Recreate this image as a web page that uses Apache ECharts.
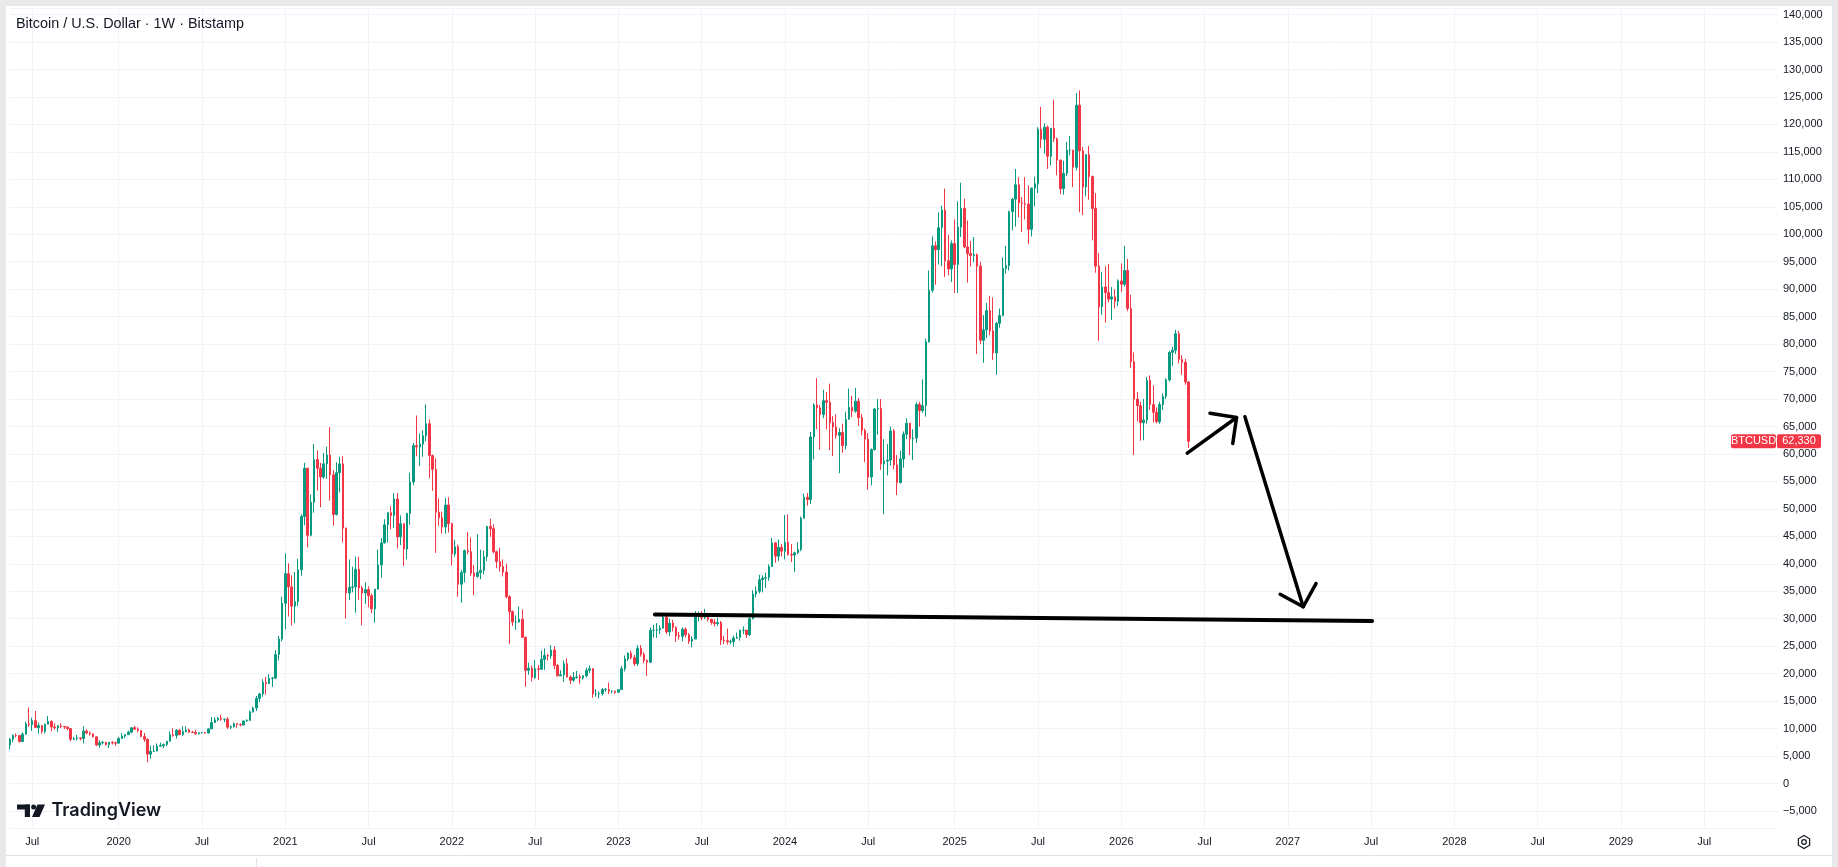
<!DOCTYPE html>
<html>
<head>
<meta charset="utf-8">
<title>Bitcoin / U.S. Dollar · 1W · Bitstamp</title>
<script src="https://cdn.jsdelivr.net/npm/echarts@6.0.0/dist/echarts.min.js"></script>
<style>
  html, body { margin: 0; padding: 0; background: #fff; }
  #chart { width: 1838px; height: 867px; }
</style>
</head>
<body>
<div id="chart"></div>
<script>
// weekly bars, first one is the week of 2019-05-13
// each row: [open, high, low, close] in thousands of USD
const candles2019 = [
  [7.0,8.3,6.2,8.05],[8.05,8.95,7.5,8.74],[8.74,9.09,8.4,8.72],[8.72,8.8,7.45,7.64],
  [7.64,9.32,7.55,8.98],[8.98,11.25,8.96,10.85],[10.85,13.88,10.3,10.75],[10.75,12.0,9.6,11.45],
  [11.45,13.2,10.6,10.2],[10.2,11.1,9.07,10.55],[10.55,10.65,9.1,9.5],[9.5,10.9,9.1,10.8],
  [10.8,12.3,10.8,11.3],[11.3,11.5,9.5,10.3],[10.3,10.95,9.8,10.15],[10.15,10.6,9.35,10.5],
  [10.5,10.95,10.1,10.4],[10.4,10.45,9.9,10.3],[10.3,10.3,9.7,10.0],[10.0,10.0,7.7,8.05],
  [8.05,8.5,7.9,8.2],[8.2,8.85,7.85,8.3],[8.3,8.4,7.85,8.2],[8.2,10.4,7.3,9.55],
  [9.55,9.9,9.0,9.2],[9.2,9.5,8.7,9.05],[9.05,9.1,8.4,8.5],[8.5,8.5,6.8,7.0],
  [7.0,7.9,6.5,7.4],[7.4,7.75,7.1,7.5],[7.5,7.6,6.9,7.1],[7.1,7.5,6.45,7.5],
  [7.5,7.7,7.1,7.4],[7.4,7.6,6.85,7.35]
];
const candles2020 = [
  [7.35,8.45,7.3,8.18],[8.18,9.2,8.1,8.65],[8.65,8.75,8.25,8.9],[8.9,9.6,8.9,9.35],
  [9.35,10.15,9.15,10.15],[10.15,10.5,9.75,9.9],[9.9,10.25,9.3,9.65],[9.65,9.7,8.45,8.55],
  [8.55,9.2,7.6,8.05],[8.05,8.2,3.85,5.35],[5.35,6.9,4.5,5.85],[5.85,6.95,5.75,5.9],
  [5.9,7.3,5.85,6.8],[6.8,7.45,6.75,6.9],[6.9,7.3,6.45,7.1],[7.1,7.75,6.8,7.7],
  [7.7,9.5,7.65,8.9],[8.9,10.05,8.5,8.75],[8.75,9.9,8.2,9.7],[9.7,9.95,8.8,8.9],
  [8.9,10.4,8.65,9.45],[9.45,10.4,9.3,9.75],[9.75,10.0,9.2,9.35],[9.35,9.6,9.2,9.3],
  [9.3,9.8,8.85,9.1],[9.1,9.3,8.9,9.25],[9.25,9.45,9.1,9.3],[9.3,9.35,9.05,9.2],
  [9.2,10.0,9.1,9.95],[9.95,12.1,9.9,11.1],[11.1,12.1,11.0,11.6],[11.6,12.1,11.3,11.9],
  [11.9,12.5,11.4,11.7],[11.7,11.8,11.15,11.7],[11.7,12.1,9.9,10.25],[10.25,10.6,9.9,10.35],
  [10.35,11.1,10.2,10.9],[10.9,10.95,10.15,10.75],[10.75,10.95,10.4,10.65],[10.65,11.45,10.55,11.4],
  [11.4,11.7,11.2,11.5],[11.5,13.3,11.4,13.05],[13.05,14.0,12.9,13.75],[13.75,15.95,13.2,15.5],
  [15.5,16.5,14.8,16.3],[16.3,19.0,15.8,18.4],[18.4,19.4,16.2,18.2],[18.2,19.9,18.1,19.15],
  [19.15,19.4,17.6,19.2],[19.2,24.3,19.0,23.5],[23.5,26.9,22.4,26.3],[26.3,34.0,25.9,32.8]
];
const candles2021 = [
  [32.8,41.9,28.1,38.2],[38.2,40.1,30.4,35.8],[35.8,37.9,28.8,32.3],[32.3,38.5,29.2,33.1],
  [33.1,40.9,32.3,38.9],[38.9,49.0,37.8,48.6],[48.6,58.4,47.0,57.4],[57.4,57.5,43.0,45.2],
  [45.2,52.6,45.0,51.2],[51.2,61.8,49.3,59.0],[59.0,60.6,53.3,57.4],[57.4,58.4,50.3,55.8],
  [55.8,60.2,55.5,58.2],[58.2,61.3,55.5,59.8],[59.8,64.9,51.5,56.2],[56.2,57.0,47.0,49.0],
  [49.0,58.5,48.8,56.6],[56.6,59.5,53.0,58.2],[58.2,59.6,43.9,46.5],[46.5,46.6,30.0,34.7],
  [34.7,40.8,33.4,35.7],[35.7,39.5,34.8,35.8],[35.8,41.3,31.1,39.0],[39.0,41.3,33.4,35.6],
  [35.6,36.0,28.8,34.7],[34.7,36.6,32.7,35.3],[35.3,35.9,32.1,34.2],[34.2,34.6,31.0,31.8],
  [31.8,35.4,29.3,35.4],[35.4,42.6,35.3,39.8],[39.8,44.7,37.5,43.8],[43.8,48.1,43.7,47.1],
  [47.1,49.4,43.9,49.3],[49.3,50.5,46.3,48.8],[48.8,52.9,46.5,51.8],[51.8,52.9,42.8,44.9],
  [44.9,48.8,43.4,47.3],[47.3,47.3,39.6,42.7],[42.7,49.2,40.8,49.2],[49.2,56.6,47.1,54.9],
  [54.9,62.0,54.3,61.5],[61.5,67.0,59.6,61.3],[61.3,63.7,57.8,61.8],[61.8,64.3,59.5,63.3],
  [63.3,69.0,62.3,65.5],[65.5,66.3,55.6,59.7],[59.7,59.9,53.3,57.2],[57.2,59.2,42.0,49.4],
  [49.4,51.9,46.9,48.4],[48.4,49.5,45.5,46.7],[46.7,52.0,45.5,50.7],[50.7,52.1,45.7,47.3]
];
const candles2022 = [
  [47.3,47.5,39.7,41.8],[41.8,44.4,41.3,43.1],[43.1,43.5,34.0,36.3],[36.3,38.9,32.9,38.4],
  [38.4,42.6,36.6,42.4],[42.4,45.8,41.7,42.2],[42.2,44.8,37.8,38.3],[38.3,39.8,34.3,37.7],
  [37.7,45.4,37.5,38.4],[38.4,42.6,37.2,38.8],[38.8,42.4,38.1,41.3],[41.3,46.9,40.5,46.8],
  [46.8,48.2,44.9,46.4],[46.4,47.2,41.9,42.2],[42.2,42.4,39.2,40.4],[40.4,42.9,38.6,39.5],
  [39.5,40.8,37.7,38.5],[38.5,40.0,33.7,34.0],[34.0,34.3,25.4,31.3],[31.3,31.5,28.7,29.4],
  [29.4,30.6,28.0,29.4],[29.4,32.2,29.3,29.9],[29.9,31.7,26.6,26.6],[26.6,26.8,17.6,20.6],
  [20.6,22.0,19.8,21.0],[21.0,21.5,18.6,19.3],[19.3,22.5,19.0,20.9],[20.9,21.6,18.9,20.8],
  [20.8,24.2,20.7,22.6],[22.6,24.6,20.7,23.3],[23.3,23.6,22.4,23.2],[23.2,25.2,22.7,24.3],
  [24.3,25.0,20.8,21.5],[21.5,21.8,19.5,19.6],[19.6,20.6,19.6,19.8],[19.8,22.4,18.5,21.8],
  [21.8,22.8,19.3,19.4],[19.4,19.7,18.1,18.8],[18.8,20.3,18.5,19.3],[19.3,20.5,19.1,19.4],
  [19.4,19.9,18.2,19.2],[19.2,19.7,18.9,19.6],[19.6,21.1,19.3,20.6],[20.6,21.5,20.1,20.9],
  [20.9,21.0,15.6,16.3],[16.3,17.2,15.8,16.3],[16.3,16.8,15.5,16.4],[16.4,17.4,16.0,17.1],
  [17.1,17.4,16.7,17.1],[17.1,18.4,16.3,16.8],[16.8,16.95,16.4,16.8],[16.8,16.9,16.3,16.6]
];
const candles2023 = [
  [16.6,17.2,16.5,17.1],[17.1,21.4,17.1,20.9],[20.9,23.3,20.4,22.7],[22.7,23.9,22.3,23.7],
  [23.7,24.2,22.6,22.9],[22.9,23.4,21.4,21.8],[21.8,25.2,21.4,24.6],[24.6,25.2,23.1,23.5],
  [23.5,23.9,21.9,22.4],[22.4,22.6,19.6,22.1],[22.1,28.4,21.9,27.9],[27.9,28.9,26.6,27.9],
  [27.9,29.2,26.5,28.0],[28.0,28.8,27.2,28.3],[28.3,31.0,28.2,30.3],[30.3,30.5,27.2,27.6],
  [27.6,30.0,26.9,29.2],[29.2,29.8,27.7,28.4],[28.4,28.6,25.8,26.9],[26.9,27.6,26.2,26.8],
  [26.8,28.4,25.9,28.1],[28.1,28.4,26.6,27.1],[27.1,27.4,25.4,25.9],[25.9,26.8,24.8,26.3],
  [26.3,31.4,26.3,30.5],[30.5,31.3,29.5,30.6],[30.6,31.4,29.7,30.2],[30.2,31.8,29.9,30.3],
  [30.3,30.4,29.5,29.9],[29.9,30.0,28.9,29.3],[29.3,29.9,28.6,29.1],[29.1,30.2,28.7,29.3],
  [29.3,29.6,25.2,26.1],[26.1,26.9,25.4,26.0],[26.0,28.2,25.3,25.8],[25.8,26.2,25.4,25.8],
  [25.8,26.9,24.9,26.5],[26.5,27.5,26.3,26.6],[26.6,28.0,26.0,27.9],[27.9,28.6,27.2,27.9],
  [27.9,28.0,26.5,27.1],[27.1,30.9,26.9,30.0],[30.0,35.2,29.9,34.5],[34.5,35.9,33.9,35.0],
  [35.0,38.0,34.6,37.1],[37.1,37.9,34.8,37.4],[37.4,38.4,35.6,37.5],[37.5,39.9,36.9,39.5],
  [39.5,44.7,39.5,43.8],[43.8,44.0,40.2,41.4],[41.4,44.4,40.5,43.0],[43.0,43.6,41.3,42.3]
];
const candles2024 = [
  [42.3,48.9,40.8,43.9],[43.9,49.0,41.5,41.7],[41.7,43.6,40.3,41.6],[41.6,42.2,38.5,42.0],
  [42.0,43.9,41.8,42.6],[42.6,48.6,42.3,48.3],[48.3,52.8,48.3,52.1],[52.1,52.9,50.6,51.7],
  [51.7,64.0,50.9,63.1],[63.1,69.2,59.0,68.9],[68.9,73.8,64.5,68.4],[68.4,68.9,60.8,67.2],
  [67.2,71.7,66.5,69.7],[69.7,71.3,64.5,69.4],[69.4,72.8,60.7,65.7],[65.7,66.9,59.6,64.9],
  [64.9,67.2,62.8,63.4],[63.4,64.7,56.5,63.9],[63.9,65.5,60.2,61.5],[61.5,67.7,60.8,66.3],
  [66.3,71.9,66.3,68.5],[68.5,70.6,66.7,67.8],[67.8,72.0,67.5,69.6],[69.6,70.2,65.1,66.6],
  [66.6,67.3,63.4,64.3],[64.3,64.6,58.5,62.7],[62.7,63.8,53.5,55.8],[55.8,61.0,54.3,60.8],
  [60.8,68.4,60.6,68.2],[68.2,70.0,63.5,68.3],[68.3,70.0,57.1,58.2],[58.2,62.7,49.0,58.7],
  [58.7,61.8,56.1,58.9],[58.9,65.0,57.9,64.2],[64.2,64.5,57.2,58.0],[58.0,59.8,52.5,54.8],
  [54.8,60.6,54.6,59.1],[59.1,64.1,57.5,63.6],[63.6,66.5,62.7,65.6],[65.6,65.6,59.8,62.8],
  [62.8,64.5,58.9,62.9],[62.9,69.4,62.0,69.0],[69.0,69.5,65.0,67.9],[67.9,73.6,67.5,68.8],
  [68.8,81.0,66.8,80.4],[80.4,93.4,80.3,89.8],[89.8,99.6,89.4,97.9],[97.9,98.7,90.8,97.2],
  [97.2,104.0,94.5,101.2],[101.2,105.2,94.2,104.4],[104.4,108.3,92.2,95.2],[95.2,99.9,92.5,93.7],
  [93.7,98.9,91.3,98.3]
];
const candles2025 = [
  [98.3,102.7,89.3,94.5],[94.5,106.0,89.3,101.3],[101.3,109.4,99.5,104.7],[104.7,106.5,97.5,97.7],
  [97.7,102.5,91.2,96.5],[96.5,98.8,94.1,96.1],[96.1,99.5,94.9,96.3],[96.3,96.5,78.2,94.2],
  [94.2,95.0,80.0,80.7],[80.7,85.3,76.6,82.6],[82.6,87.5,81.1,86.1],[86.1,88.8,81.6,82.4],
  [82.4,88.5,77.1,78.4],[78.4,84.0,74.4,83.8],[83.8,86.5,83.0,85.2],[85.2,95.8,85.1,93.8],
  [93.8,97.9,92.8,94.3],[94.3,104.3,93.4,104.1],[104.1,106.6,100.7,106.4],[106.4,111.9,101.4,109.0],
  [109.0,110.4,103.1,105.7],[105.7,106.8,100.4,105.6],[105.6,110.4,102.7,105.5],[105.5,108.9,98.2,100.9],
  [100.9,108.5,99.6,108.4],[108.4,110.5,105.1,109.2],[109.2,119.5,107.5,119.1],[119.1,123.2,115.7,117.3],
  [117.3,120.2,114.7,119.5],[119.5,119.8,111.9,114.2],[114.2,119.3,112.6,119.3],[119.3,124.5,116.8,117.4],
  [117.4,117.6,110.7,113.5],[113.5,113.6,107.3,108.3],[108.3,113.4,107.2,111.1],[111.1,116.8,110.6,115.3],
  [115.3,117.9,114.4,115.3],[115.3,115.4,108.6,112.2],[112.2,125.7,111.6,123.5],[123.5,126.2,104.0,115.2],
  [115.2,115.9,103.5,108.6],[108.6,114.6,106.9,114.5],[114.5,116.1,106.3,110.5],[110.5,110.7,98.9,104.7],
  [104.7,107.5,93.0,94.2],[94.2,96.6,80.6,86.8],[86.8,93.1,85.3,90.4],[90.4,94.2,83.9,89.4],
  [89.4,94.6,87.6,88.2],[88.2,90.4,84.4,88.6],[88.6,90.0,86.5,87.8],[87.8,91.8,86.9,91.5]
];
const candles2026 = [
  [91.5,94.7,89.5,90.9],[90.9,97.9,90.5,93.4],[93.4,95.5,86.0,86.5],[86.5,89.0,75.7,76.8],
  [76.8,78.5,59.8,70.0],[70.0,71.3,65.9,68.8],[68.8,69.5,62.4,65.7],[65.7,70.0,62.5,66.2],
  [66.2,74.0,65.5,73.4],[73.4,74.3,68.0,69.0],[69.0,72.5,65.7,67.6],[67.6,68.5,65.6,65.9],
  [65.9,69.5,65.5,69.0],[69.0,71.0,68.0,70.5],[70.5,73.8,70.0,73.5],[73.5,78.8,73.2,78.5],
  [78.5,79.5,76.0,78.9],[78.9,82.6,78.2,81.9],[81.9,82.4,76.5,77.2],[77.2,78.0,74.4,76.7],
  [76.7,77.3,72.6,73.1],[73.1,73.3,61.1,62.33]
];

// time scale
const firstWeekUTC = Date.UTC(2019, 4, 13);
const weekCount = 553; // bars on the time scale, out to Dec 2029
const tickMonths = ['2019-07','2020-01','2020-07','2021-01','2021-07','2022-01','2022-07','2023-01','2023-07',
  '2024-01','2024-07','2025-01','2025-07','2026-01','2026-07','2027-01','2027-07','2028-01','2028-07','2029-01','2029-07'];
const tickLabels = ['Jul','2020','Jul','2021','Jul','2022','Jul','2023','Jul','2024','Jul','2025','Jul','2026','Jul',
  '2027','Jul','2028','Jul','2029','Jul'];

// hand drawn lines, points are [bar index, price in USD]
const supportLine = [[201.4, 30770], [425.3, 29590]];
const arrowUp = [[367.6, 60140], [383.0, 66640]];
const arrowUpHead = [[374.7, 67430], [383.0, 66640], [381.8, 61890]];
const arrowDown = [[385.6, 66770], [403.8, 32180]];
const arrowDownHead = [[396.6, 34450], [403.8, 32180], [407.8, 36400]];

const UP = '#089981', DOWN = '#f23645', TXT = '#131722', GRID = '#f0f3fa';
const FONT = '"Liberation Sans", Arial, sans-serif';

const candles = [].concat(candles2019, candles2020, candles2021, candles2022,
  candles2023, candles2024, candles2025, candles2026);
// echarts wants [open, close, low, high]
const ohlc = candles.map(r => [r[0] * 1000, r[3] * 1000, r[2] * 1000, r[1] * 1000]);
const lastClose = candles[candles.length - 1][3] * 1000;

const weekDates = [];
for (let i = 0; i < weekCount; i++) {
  weekDates.push(new Date(firstWeekUTC + i * 7 * 86400000).toISOString().slice(0, 10));
}
const tickAt = {};
tickMonths.forEach((m, k) => {
  const idx = weekDates.findIndex(d => d.startsWith(m));
  if (idx >= 0) tickAt[idx] = tickLabels[k];
});
const isTick = (i) => tickAt[i] !== undefined;

function fmtPrice(v) {
  const s = String(Math.abs(Math.round(v))).replace(/\B(?=(\d{3})+(?!\d))/g, ',');
  return v < 0 ? '\u2212' + s : s;
}

function drawnLine(data, width) {
  return {
    type: 'line', xAxisIndex: 1, yAxisIndex: 0, data: data,
    symbol: 'none', silent: true, z: 5,
    lineStyle: { color: '#000', width: width, cap: 'round', join: 'round' }
  };
}

const chart = echarts.init(document.getElementById('chart'));
chart.setOption({
  animation: false,
  backgroundColor: '#fff',
  grid: { left: 9.8, right: 60.1, top: 8, bottom: 39 },
  xAxis: [
    {
      type: 'category', data: weekDates, boundaryGap: false,
      axisLine: { show: false }, axisTick: { show: false },
      axisLabel: {
        interval: isTick, formatter: (v, i) => tickAt[i] || '',
        color: TXT, fontSize: 11, fontFamily: FONT, margin: 8
      },
      splitLine: { show: true, interval: isTick, lineStyle: { color: GRID, width: 1 } }
    },
    { type: 'value', min: 0, max: weekCount - 1, show: false }
  ],
  yAxis: {
    type: 'value', position: 'right', min: -8100, max: 141200, splitNumber: 30,
    axisLine: { show: false }, axisTick: { show: false },
    axisLabel: {
      color: TXT, fontSize: 11, fontFamily: FONT, margin: 5,
      showMinLabel: false, showMaxLabel: false, formatter: fmtPrice
    },
    splitLine: { lineStyle: { color: GRID, width: 1 } }
  },
  series: [
    {
      type: 'candlestick', data: ohlc, barWidth: 2, clip: false, silent: true,
      itemStyle: { color: UP, color0: DOWN, borderColor: UP, borderColor0: DOWN, borderWidth: 1 }
    },
    drawnLine(supportLine, 4),
    drawnLine(arrowUp, 3.5),
    drawnLine(arrowUpHead, 3.5),
    drawnLine(arrowDown, 3.5),
    drawnLine(arrowDownHead, 3.5)
  ]
});

// frame, title, logo and the last price tag
const yLast = chart.convertToPixel({ yAxisIndex: 0 }, lastClose);
const hex = [];
for (let k = 0; k < 6; k++) {
  const a = Math.PI / 180 * (60 * k - 90);
  hex.push([1804 + 6.5 * Math.cos(a), 842 + 6.5 * Math.sin(a)]);
}
chart.setOption({
  graphic: [
    { type: 'rect', shape: { x: 0, y: 0, width: 1838, height: 6 }, style: { fill: '#e9e9ec' }, silent: true },
    { type: 'rect', shape: { x: 0, y: 0, width: 6, height: 867 }, style: { fill: '#e9e9ec' }, silent: true },
    { type: 'rect', shape: { x: 1832, y: 0, width: 6, height: 867 }, style: { fill: '#e9e9ec' }, silent: true },
    { type: 'line', shape: { x1: 6, y1: 855.5, x2: 1832, y2: 855.5 }, style: { stroke: '#e0e3eb', lineWidth: 1 }, silent: true },
    { type: 'line', shape: { x1: 256.5, y1: 858, x2: 256.5, y2: 867 }, style: { stroke: '#e0e3eb', lineWidth: 1 }, silent: true },
    {
      type: 'text', x: 16, y: 24, silent: true,
      style: { text: 'Bitcoin / U.S. Dollar · 1W · Bitstamp', fill: TXT, font: '14.4px ' + FONT, verticalAlign: 'middle' }
    },
    // TradingView watermark
    { type: 'rect', shape: { x: 17, y: 804.5, width: 13, height: 5 }, style: { fill: TXT }, silent: true },
    { type: 'rect', shape: { x: 24.8, y: 804.5, width: 5.2, height: 12.5 }, style: { fill: TXT }, silent: true },
    { type: 'circle', shape: { cx: 33.6, cy: 807, r: 2.5 }, style: { fill: TXT }, silent: true },
    { type: 'polygon', shape: { points: [[37.5, 804.5], [45, 804.5], [39.5, 817], [32, 817]] }, style: { fill: TXT }, silent: true },
    {
      type: 'text', x: 51.5, y: 811, silent: true,
      style: { text: 'TradingView', fill: TXT, font: '600 18px Inter, Roboto, sans-serif', verticalAlign: 'middle' }
    },
    // settings button
    { type: 'polygon', shape: { points: hex }, style: { fill: 'none', stroke: TXT, lineWidth: 1.2 }, silent: true },
    { type: 'circle', shape: { cx: 1804, cy: 842, r: 2.3 }, style: { fill: 'none', stroke: TXT, lineWidth: 1.2 }, silent: true },
    // last price tag
    { type: 'rect', shape: { x: 1731, y: yLast - 7, width: 45, height: 14, r: 2 }, style: { fill: DOWN }, silent: true },
    { type: 'rect', shape: { x: 1777, y: yLast - 7, width: 44, height: 14, r: 2 }, style: { fill: DOWN }, silent: true },
    {
      type: 'text', x: 1753.5, y: yLast, silent: true,
      style: { text: 'BTCUSD', fill: '#fff', font: '11px ' + FONT, align: 'center', verticalAlign: 'middle' }
    },
    {
      type: 'text', x: 1799, y: yLast, silent: true,
      style: { text: fmtPrice(lastClose), fill: '#fff', font: '11px ' + FONT, align: 'center', verticalAlign: 'middle' }
    }
  ]
});
</script>
</body>
</html>
